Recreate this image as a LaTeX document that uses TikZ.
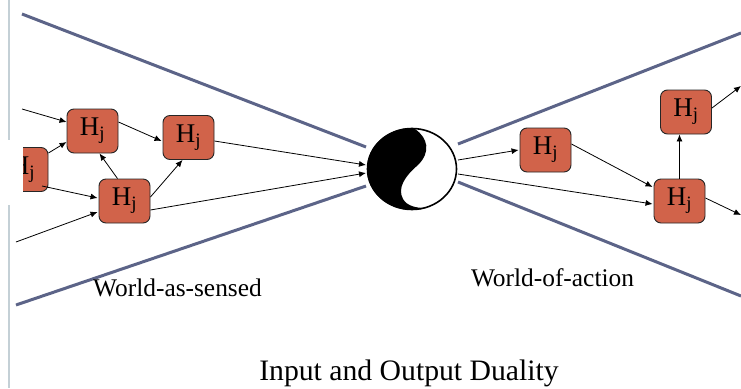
\documentclass[tikz,border=0pt]{standalone}
\usepackage{fontspec}
\setmainfont{Liberation Serif}
\usetikzlibrary{arrows.meta,shapes.geometric}
\definecolor{hfill}{HTML}{D1634A}
\definecolor{slate}{HTML}{5C6488}
\definecolor{barc}{HTML}{C4D0D6}
\tikzset{
  hbox/.style={draw=black!85,line width=0.9pt,fill=hfill,rounded corners=7pt,minimum width=51pt,minimum height=44pt,inner sep=0pt,font=\fontsize{27}{27}\selectfont},
  link/.style={draw=black,line width=0.8pt,-{Latex[length=7pt,width=6pt]}},
  wedge/.style={draw=slate,line width=3pt},
  bar/.style={draw=barc,line width=1.6pt},
  lab/.style={inner sep=0pt,font=\fontsize{25.4}{25.4}\selectfont},
  hub/.style={ellipse,fill=white,minimum width=90pt,minimum height=82pt,inner sep=0pt}
}
\newcommand{\Hj}{\raisebox{-3pt}{H\textsubscript{j}}}
\begin{document}
\begin{tikzpicture}[x=1pt,y=-1pt]
\useasboundingbox (0,0) rectangle (741,388);
% side bar
\coordinate (b1) at (9,0); \coordinate (b2) at (9,140);
\coordinate (b3) at (9,205); \coordinate (b4) at (9,388);
\draw[bar] (b1) -- (b2);
\draw[bar] (b3) -- (b4);
% nodes
\begin{scope}
\clip (23,140) rectangle (60,200);
\node[hbox] (A) at (22.5,169.5) {\Hj};
\end{scope}
\node[hbox] (B) at (92.5,131) {\Hj};
\node[hbox] (C) at (188.5,137.5) {\Hj};
\node[hbox] (D) at (124.5,201) {\Hj};
\node[hbox] (E) at (545.5,150) {\Hj};
\node[hbox] (F) at (679.5,201) {\Hj};
\node[hbox] (G) at (686,112) {\Hj};
% hub
\node[hub] (Y) at (412,169) {};
\begin{scope}
\clip (Y.center) ellipse [x radius=45pt,y radius=41pt];
\fill[black] (413,125) -- (415,129) .. controls (428,138) and (431,152) .. (418,165)
  .. controls (405,176) and (397,188) .. (403,199)
  .. controls (407,206) and (416,208) .. (425,208) -- (425,214) -- (360,214) -- (360,125) -- cycle;
\end{scope}
\draw[black,line width=1.6pt] (Y.center) ellipse [x radius=44.5pt,y radius=40.5pt];
% wedge lines
\coordinate (w1) at (22,14); \coordinate (w2) at (366,147);
\coordinate (w3) at (16,305); \coordinate (w4) at (366,186);
\coordinate (w5) at (741,33); \coordinate (w6) at (458,144);
\coordinate (w7) at (741,296); \coordinate (w8) at (458,182);
\draw[wedge] (w1) -- (w2);
\draw[wedge] (w3) -- (w4);
\draw[wedge] (w6) -- (w5);
\draw[wedge] (w8) -- (w7);
% free ends
\coordinate (i1) at (22,109);
\coordinate (i2) at (16,242);
\coordinate (o1) at (741,86);
\coordinate (o2) at (741,215);
\coordinate (y1) at (366,165);
\coordinate (y2) at (366,173);
\coordinate (y3) at (458,160);
\coordinate (y4) at (458,174);
% connectors
\draw[link] (i1) -- ([yshift=9pt]B.west);
\draw[link] ([yshift=16.5pt]A.east) -- ([yshift=-11pt]B.west);
\draw[link] ([xshift=19.5pt,yshift=-16.5pt]A.center) -- ([xshift=-1pt,yshift=3pt]D.west);
\draw[link] (i2) -- ([xshift=-1pt,yshift=-11pt]D.west);
\draw[link] ([xshift=-7pt]D.north) -- ([xshift=7pt]B.south);
\draw[link] ([yshift=4pt]D.east) -- ([xshift=-6pt]C.south);
\draw[link] ([yshift=9pt]B.east) -- ([xshift=-1pt,yshift=-3.5pt]C.west);
\draw[link] ([yshift=-3.5pt]C.east) -- (y1);
\draw[link] ([yshift=-9pt]D.east) -- (y2);
\draw[link] (y3) -- ([xshift=-1pt]E.west);
\draw[link] (y4) -- ([xshift=-1pt,yshift=-3pt]F.west);
\draw[link] ([yshift=6pt]E.east) -- ([xshift=-1pt,yshift=14pt]F.west);
\draw[link] (F.north) -- (F.north |- G.south);
\draw[link] ([yshift=4pt]G.east) -- (o1);
\draw[link] ([yshift=3pt]F.east) -- (o2);
% labels
\node[lab] (t1) at (177.5,287.5) {World-as-sensed};
\node[lab] (t2) at (552.5,277.5) {World-of-action};
\node[lab,font=\fontsize{29.7}{29.7}\selectfont] (t3) at (409,373) {Input and Output Duality};
\end{tikzpicture}
\end{document}
